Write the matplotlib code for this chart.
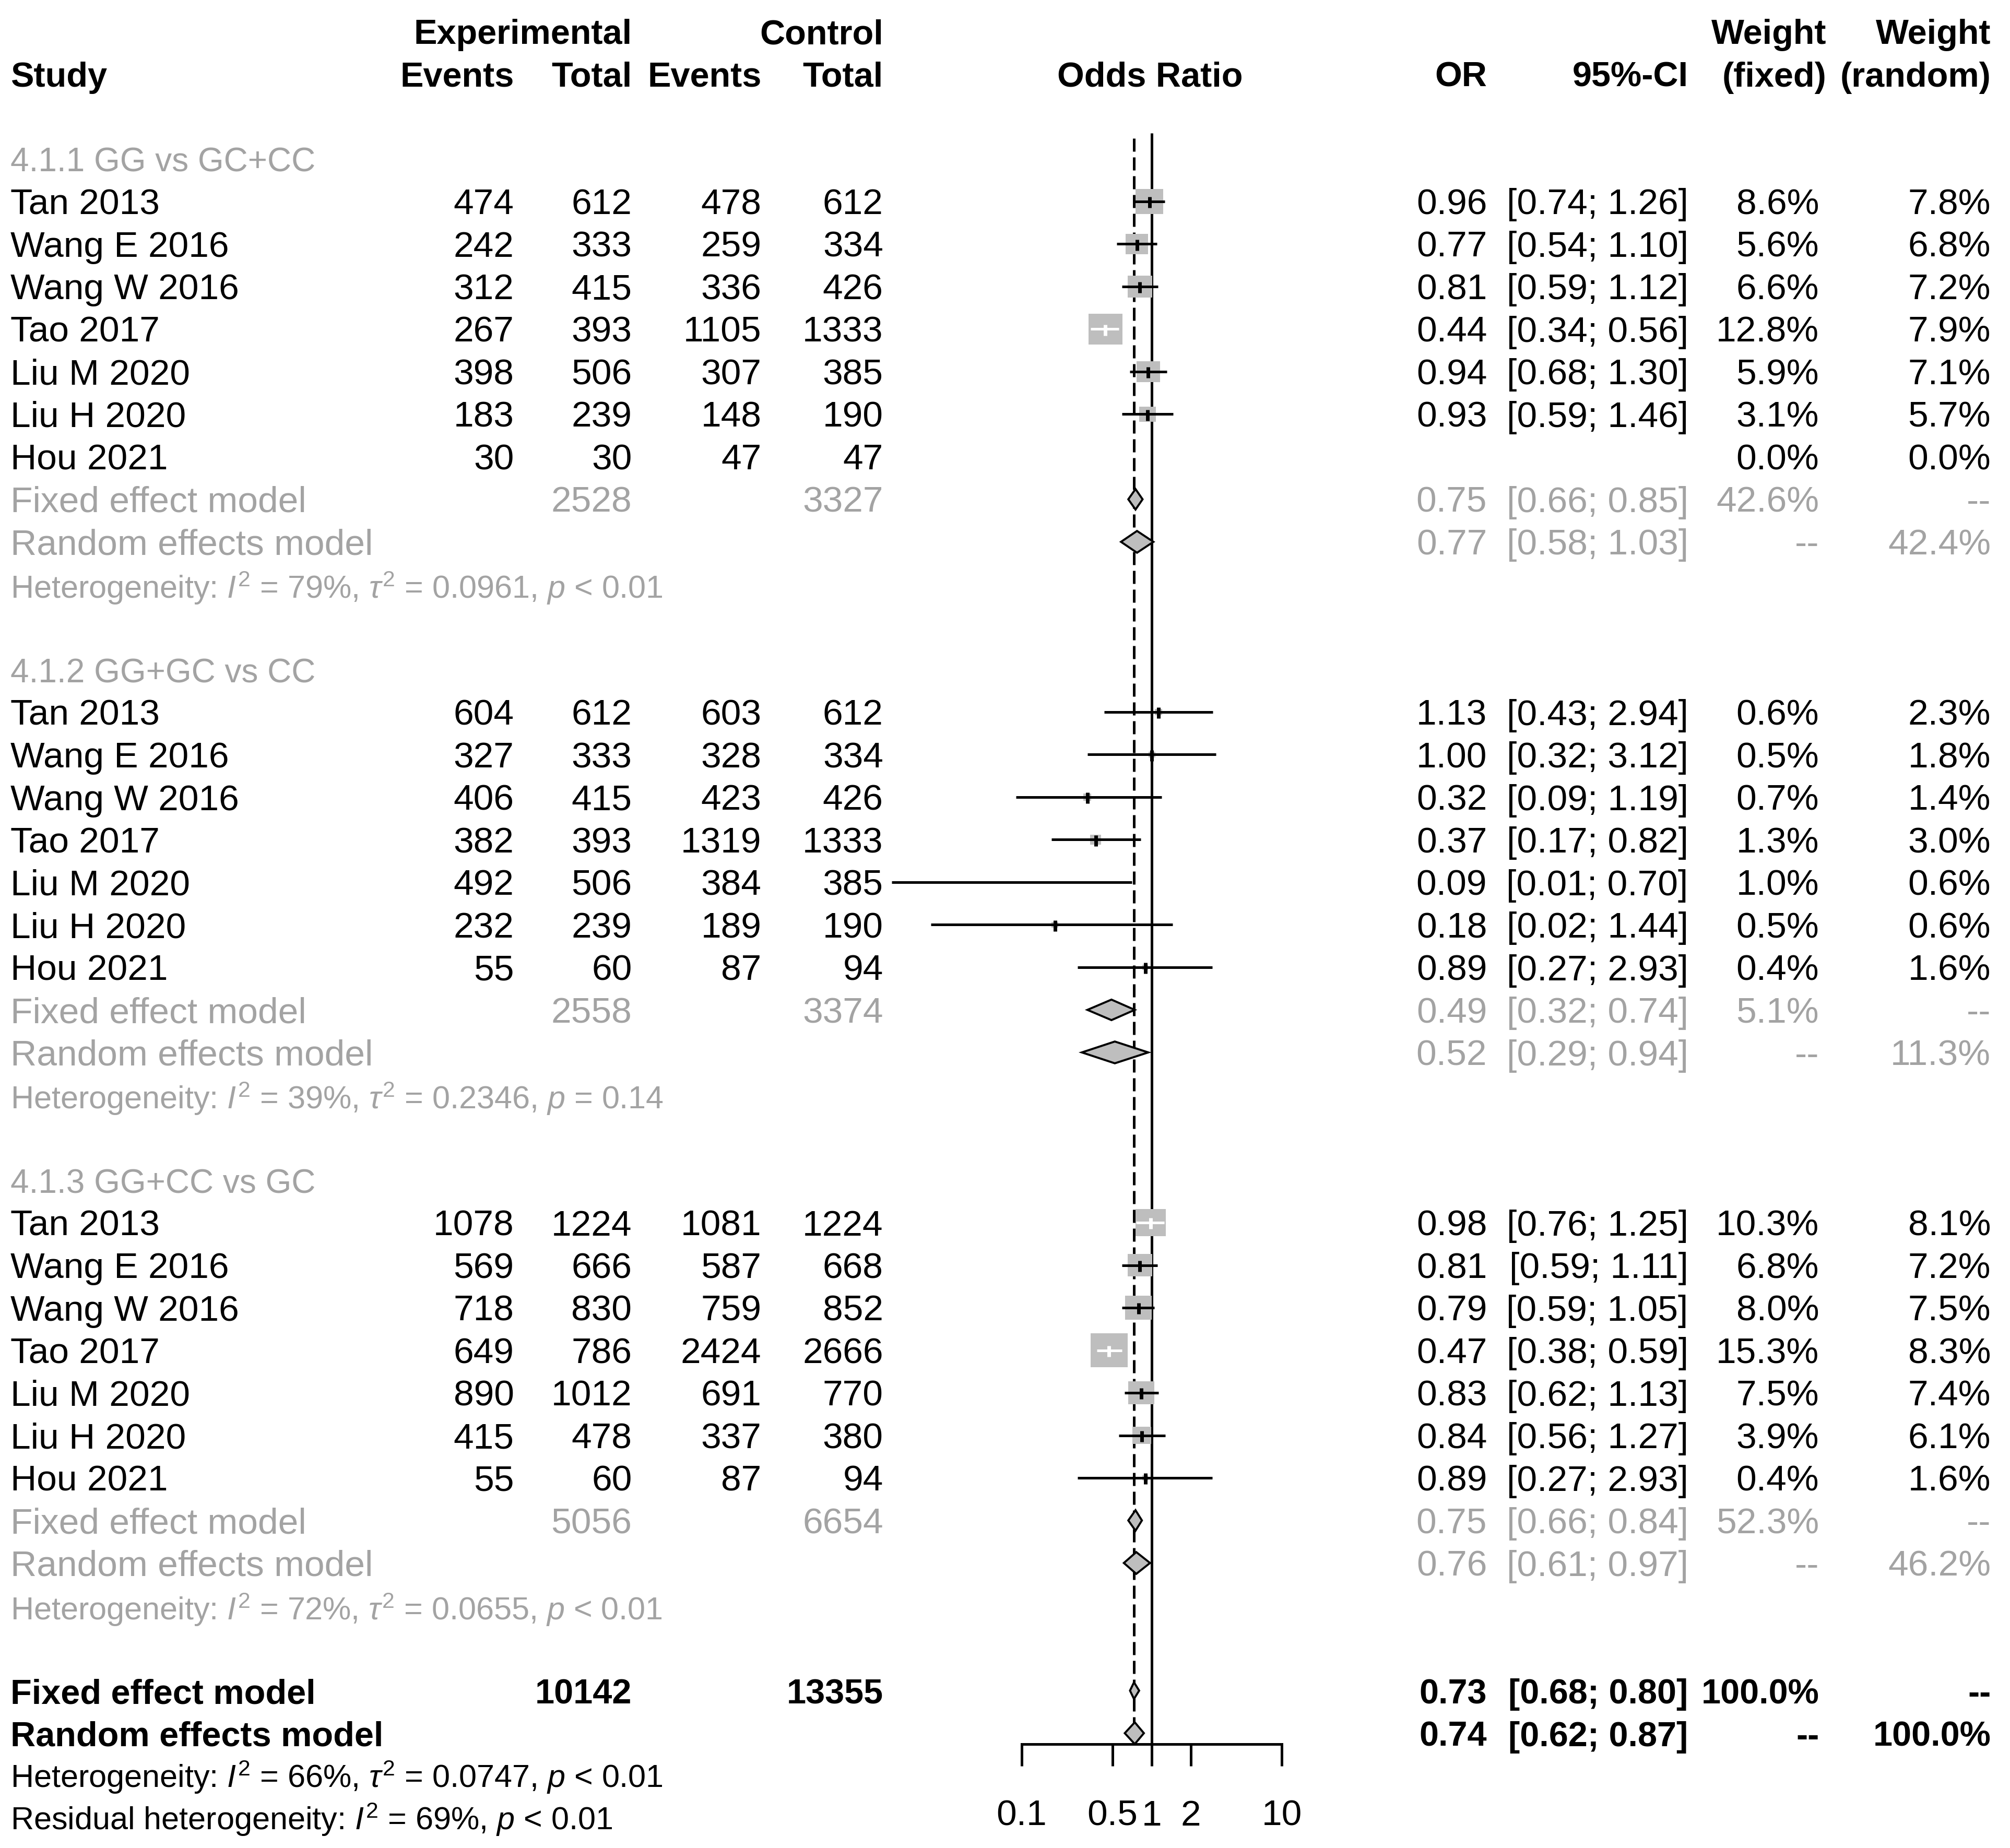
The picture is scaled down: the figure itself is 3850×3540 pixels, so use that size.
import matplotlib
matplotlib.use('Agg')
import matplotlib.pyplot as plt
from matplotlib.patches import Rectangle, Polygon
import numpy as np

plt.rcParams['font.family'] = ['Liberation Sans', 'DejaVu Sans']
plt.rcParams['mathtext.fontset'] = 'custom'
plt.rcParams['mathtext.rm'] = 'Liberation Sans'
plt.rcParams['mathtext.it'] = 'Liberation Sans:italic'
plt.rcParams['mathtext.bf'] = 'Liberation Sans:bold'

# ---------------- data ----------------
subgroup_labels = ['4.1.1 GG vs GC+CC', '4.1.2 GG+GC vs CC', '4.1.3 GG+CC vs GC']
studies = ['Tan 2013', 'Wang E 2016', 'Wang W 2016', 'Tao 2017', 'Liu M 2020', 'Liu H 2020', 'Hou 2021']

exp_events = [[474, 242, 312, 267, 398, 183, 30],
              [604, 327, 406, 382, 492, 232, 55],
              [1078, 569, 718, 649, 890, 415, 55]]
exp_total = [[612, 333, 415, 393, 506, 239, 30],
             [612, 333, 415, 393, 506, 239, 60],
             [1224, 666, 830, 786, 1012, 478, 60]]
ctrl_events = [[478, 259, 336, 1105, 307, 148, 47],
               [603, 328, 423, 1319, 384, 189, 87],
               [1081, 587, 759, 2424, 691, 337, 87]]
ctrl_total = [[612, 334, 426, 1333, 385, 190, 47],
              [612, 334, 426, 1333, 385, 190, 94],
              [1224, 668, 852, 2666, 770, 380, 94]]
odds_ratio = [[0.96, 0.77, 0.81, 0.44, 0.94, 0.93, None],
              [1.13, 1.00, 0.32, 0.37, 0.09, 0.18, 0.89],
              [0.98, 0.81, 0.79, 0.47, 0.83, 0.84, 0.89]]
ci_low = [[0.74, 0.54, 0.59, 0.34, 0.68, 0.59, None],
          [0.43, 0.32, 0.09, 0.17, 0.01, 0.02, 0.27],
          [0.76, 0.59, 0.59, 0.38, 0.62, 0.56, 0.27]]
ci_high = [[1.26, 1.10, 1.12, 0.56, 1.30, 1.46, None],
           [2.94, 3.12, 1.19, 0.82, 0.70, 1.44, 2.93],
           [1.25, 1.11, 1.05, 0.59, 1.13, 1.27, 2.93]]
weight_fixed = [[8.6, 5.6, 6.6, 12.8, 5.9, 3.1, 0.0],
                [0.6, 0.5, 0.7, 1.3, 1.0, 0.5, 0.4],
                [10.3, 6.8, 8.0, 15.3, 7.5, 3.9, 0.4]]
weight_random = [[7.8, 6.8, 7.2, 7.9, 7.1, 5.7, 0.0],
                 [2.3, 1.8, 1.4, 3.0, 0.6, 0.6, 1.6],
                 [8.1, 7.2, 7.5, 8.3, 7.4, 6.1, 1.6]]

sub_exp_total = [2528, 2558, 5056]
sub_ctrl_total = [3327, 3374, 6654]
sub_fixed = [(0.75, 0.66, 0.85), (0.49, 0.32, 0.74), (0.75, 0.66, 0.84)]
sub_fixed_w = [42.6, 5.1, 52.3]
sub_random = [(0.77, 0.58, 1.03), (0.52, 0.29, 0.94), (0.76, 0.61, 0.97)]
sub_random_w = [42.4, 11.3, 46.2]
sub_i2 = ['79%', '39%', '72%']
sub_tau2 = ['0.0961', '0.2346', '0.0655']
sub_p = ['< 0.01', '= 0.14', '< 0.01']

overall_exp_total = 10142
overall_ctrl_total = 13355
overall_fixed = (0.73, 0.68, 0.80)
overall_random = (0.74, 0.62, 0.87)
overall_i2 = '66%'
overall_tau2 = '0.0747'
overall_p = '< 0.01'
resid_i2 = '69%'
resid_p = '< 0.01'

tick_values = [0.1, 0.5, 1, 2, 10]
tick_labels = ['0.1', '0.5', '1', '2', '10']

# ---------------- layout ----------------
W, H = 1568.0, 1442.0
ROW0, ROWH = 124.0, 33.2
FS = 50
FS_BOLD = 48
FS_SUB = 46
FS_HET = 44
GRAY = '#A3A3A3'
BOXC = '#BEBEBE'
LW = 3.6


def ry(r):
    return ROW0 + ROWH * r


fig = plt.figure(figsize=(38.5, 35.4), dpi=100)
ax0 = fig.add_axes([0, 0, 1, 1])
ax0.set_xlim(0, W)
ax0.set_ylim(H, 0)
ax0.axis('off')


def txt(x, r, s, ha='right', color='black', weight='normal', size=None, dy=10):
    if size is None:
        size = FS_BOLD if weight == 'bold' else FS
    ax0.text(x, ry(r) + dy, s, ha=ha, va='baseline', color=color,
             fontweight=weight, fontsize=size)


X_STUDY, X_EE, X_ET, X_CE, X_CT = 8, 401, 493, 594, 689
X_OR, X_CI, X_WF, X_WR = 1160, 1317, 1419, 1553

# headers
txt(X_ET, -3, 'Experimental', weight='bold')
txt(X_CT, -3, 'Control', weight='bold')
txt(1425, -3, 'Weight', weight='bold')
txt(X_WR, -3, 'Weight', weight='bold')
txt(X_STUDY, -2, 'Study', ha='left', weight='bold')
txt(X_EE, -2, 'Events', weight='bold')
txt(X_ET, -2, 'Total', weight='bold')
txt(X_CE, -2, 'Events', weight='bold')
txt(X_CT, -2, 'Total', weight='bold')
txt(897, -2, 'Odds Ratio', ha='center', weight='bold')
txt(X_OR, -2, 'OR', weight='bold')
txt(X_CI, -2, '95%-CI', weight='bold')
txt(1425, -2, '(fixed)', weight='bold')
txt(X_WR, -2, '(random)', weight='bold')

# forest axes
ax_left, ax_right = 797.0, 1000.0
ax_top, ax_bot = 100.0, 1361.0
ax = fig.add_axes([ax_left / W, 1 - ax_bot / H, (ax_right - ax_left) / W, (ax_bot - ax_top) / H])
ax.set_xscale('log')
ax.set_xlim(tick_values[0], tick_values[-1])
ax.set_ylim(ax_bot, ax_top)
ax.patch.set_alpha(0)
for sp in ['top', 'left', 'right']:
    ax.spines[sp].set_visible(False)
ax.spines['bottom'].set_linewidth(LW)
ax.spines['bottom'].set_bounds(tick_values[0], tick_values[-1])
ax.set_yticks([])
ax.set_xticks(tick_values)
ax.set_xticklabels(tick_labels)
ax.minorticks_off()
ax.tick_params(axis='x', direction='out', length=30, width=LW, labelsize=FS, pad=46)

dec_per_unit = np.log10(tick_values[-1] / tick_values[0]) / (ax_right - ax_left)
K = 29.0 / np.sqrt(15.3)

# reference lines
ax.plot([1, 1], [104, ax_bot], color='black', lw=LW, zorder=1, solid_capstyle='butt')
ax.plot([overall_fixed[0]] * 2, [108, 1345], color='black', lw=LW, zorder=1,
        dashes=(5.0, 2.2))


def study_mark(est, lo, hi, w, y):
    side = K * np.sqrt(w)
    sh = side * 0.9
    hw = side / 2 * dec_per_unit
    blo, bhi = est * 10 ** (-hw), est * 10 ** hw
    ax.add_patch(Rectangle((blo, y - sh / 2), bhi - blo, sh, facecolor=BOXC,
                           edgecolor=BOXC, lw=0, zorder=2))
    inside = lo >= blo and hi <= bhi
    col = 'white' if inside else 'black'
    ax.plot([lo, hi], [y, y], color=col, lw=LW, zorder=3, clip_on=False,
            solid_capstyle='butt')
    ax.plot([est, est], [y - 3.5, y + 5], color=col, lw=5, zorder=3,
            solid_capstyle='butt')


def diamond(est, lo, hi, y, h=16):
    ax.add_patch(Polygon([(lo, y), (est, y - h / 2), (hi, y), (est, y + h / 2)],
                         closed=True, facecolor=BOXC, edgecolor='black', lw=2.8,
                         zorder=4, clip_on=False))


def fmt_or(v):
    return '%.2f' % v


def fmt_ci(lo, hi):
    return '[%.2f; %.2f]' % (lo, hi)


def fmt_w(v):
    return '%.1f%%' % v


for g in range(3):
    base = g * 12
    txt(X_STUDY, base, subgroup_labels[g], ha='left', color=GRAY, size=FS_SUB)
    for i, name in enumerate(studies):
        r = base + 1 + i
        txt(X_STUDY, r, name, ha='left')
        txt(X_EE, r, str(exp_events[g][i]))
        txt(X_ET, r, str(exp_total[g][i]))
        txt(X_CE, r, str(ctrl_events[g][i]))
        txt(X_CT, r, str(ctrl_total[g][i]))
        est = odds_ratio[g][i]
        if est is not None:
            txt(X_OR, r, fmt_or(est))
            txt(X_CI, r, fmt_ci(ci_low[g][i], ci_high[g][i]))
            study_mark(est, ci_low[g][i], ci_high[g][i], weight_fixed[g][i], ry(r))
        txt(X_WF, r, fmt_w(weight_fixed[g][i]))
        txt(X_WR, r, fmt_w(weight_random[g][i]))
    # fixed
    r = base + 8
    txt(X_STUDY, r, 'Fixed effect model', ha='left', color=GRAY)
    txt(X_ET, r, str(sub_exp_total[g]), color=GRAY)
    txt(X_CT, r, str(sub_ctrl_total[g]), color=GRAY)
    e, lo, hi = sub_fixed[g]
    txt(X_OR, r, fmt_or(e), color=GRAY)
    txt(X_CI, r, fmt_ci(lo, hi), color=GRAY)
    txt(X_WF, r, fmt_w(sub_fixed_w[g]), color=GRAY)
    txt(X_WR, r, '--', color=GRAY)
    diamond(e, lo, hi, ry(r))
    # random
    r = base + 9
    txt(X_STUDY, r, 'Random effects model', ha='left', color=GRAY)
    e, lo, hi = sub_random[g]
    txt(X_OR, r, fmt_or(e), color=GRAY)
    txt(X_CI, r, fmt_ci(lo, hi), color=GRAY)
    txt(X_WF, r, '--', color=GRAY)
    txt(X_WR, r, fmt_w(sub_random_w[g]), color=GRAY)
    diamond(e, lo, hi, ry(r), h=17)
    # heterogeneity
    r = base + 10
    het = r'Heterogeneity: $I^2$ = %s, $\tau^2$ = %s, $p$ %s' % (sub_i2[g], sub_tau2[g], sub_p[g])
    txt(X_STUDY, r, het, ha='left', color=GRAY, size=FS_HET, dy=11)

# overall
r = 36
txt(X_STUDY, r, 'Fixed effect model', ha='left', weight='bold')
txt(X_ET, r, str(overall_exp_total), weight='bold')
txt(X_CT, r, str(overall_ctrl_total), weight='bold')
e, lo, hi = overall_fixed
txt(X_OR, r, fmt_or(e), weight='bold')
txt(X_CI, r, fmt_ci(lo, hi), weight='bold')
txt(X_WF, r, fmt_w(100.0), weight='bold')
txt(X_WR, r, '--', weight='bold')
diamond(e, lo, hi, ry(r), h=13)
r = 37
txt(X_STUDY, r, 'Random effects model', ha='left', weight='bold')
e, lo, hi = overall_random
txt(X_OR, r, fmt_or(e), weight='bold')
txt(X_CI, r, fmt_ci(lo, hi), weight='bold')
txt(X_WF, r, '--', weight='bold')
txt(X_WR, r, fmt_w(100.0), weight='bold')
diamond(e, lo, hi, ry(r), h=17)
txt(X_STUDY, 38, r'Heterogeneity: $I^2$ = %s, $\tau^2$ = %s, $p$ %s' % (overall_i2, overall_tau2, overall_p),
    ha='left', size=FS_HET, dy=9)
txt(X_STUDY, 39, r'Residual heterogeneity: $I^2$ = %s, $p$ %s' % (resid_i2, resid_p),
    ha='left', size=FS_HET, dy=9)

fig.savefig('out.png', dpi=100, facecolor='white')
